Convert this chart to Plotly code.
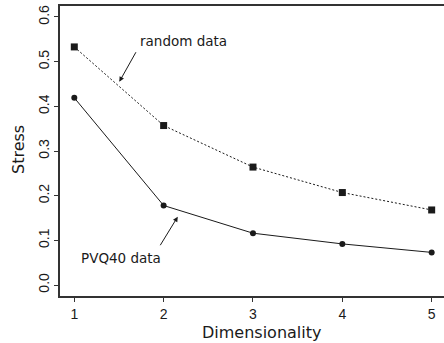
import plotly.graph_objects as go

dims = [1, 2, 3, 4, 5]
random_stress = [0.533, 0.357, 0.264, 0.207, 0.168]
pvq_stress = [0.419, 0.178, 0.116, 0.092, 0.073]
y_ticks = [0.0, 0.1, 0.2, 0.3, 0.4, 0.5, 0.6]
y_ticklabels = ["0.0", "0.1", "0.2", "0.3", "0.4", "0.5", "0.6"]

INK = "#1a1a1a"
fig = go.Figure()
fig.add_trace(go.Scatter(x=dims, y=random_stress, mode="lines+markers",
                         line=dict(color=INK, width=1, dash="2px,2px"),
                         marker=dict(symbol="square", size=7, color=INK),
                         showlegend=False))
fig.add_trace(go.Scatter(x=dims, y=pvq_stress, mode="lines+markers",
                         line=dict(color=INK, width=1),
                         marker=dict(symbol="circle", size=6, color=INK),
                         showlegend=False))

W, H = 444, 343
L, T, R, B = 60, 6, 0, 47
fig.update_layout(
    width=W, height=H,
    margin=dict(l=L, r=R, t=T, b=B),
    plot_bgcolor="white", paper_bgcolor="white",
    font=dict(family="Liberation Sans, Arial", size=14, color=INK),
    xaxis=dict(range=[0.84, 5.138], tickvals=dims, ticktext=[str(d) for d in dims],
               showgrid=False, zeroline=False, showline=True, mirror=True,
               linecolor="#333", linewidth=1.5, ticks="outside", ticklen=4,
               tickcolor="#333", tickfont=dict(size=14, color=INK)),
    yaxis=dict(range=[-0.0246, 0.6246], tickvals=y_ticks, ticktext=y_ticklabels,
               showgrid=False, zeroline=False, showline=True, mirror=False,
               linecolor="#333", linewidth=1.5, ticks="outside", ticklen=4,
               tickcolor="#333", tickangle=-90, tickfont=dict(size=14, color=INK)),
)

title_font = dict(family="DejaVu Sans, Verdana", size=16, color=INK)
fig.add_annotation(text="Stress", xref="paper", yref="paper",
                   x=(18 - L) / 384, y=(296 - 150) / 290, textangle=-90,
                   showarrow=False, xanchor="center", yanchor="middle", font=title_font)
fig.add_annotation(text="Dimensionality", xref="paper", yref="paper",
                   x=(261.7 - L) / 384, y=(296 - 332) / 290,
                   showarrow=False, xanchor="center", yanchor="middle", font=title_font)

lab_font = dict(family="DejaVu Sans, Verdana", size=13.5, color=INK)
fig.add_annotation(text="random data", x=2.217, y=0.546, xref="x", yref="y",
                   showarrow=False, font=lab_font)
fig.add_annotation(text="PVQ40 data", x=1.523, y=0.060, xref="x", yref="y",
                   showarrow=False, font=lab_font)
fig.add_annotation(x=1.504, y=0.455, ax=1.699, ay=0.5245, xref="x", yref="y",
                   axref="x", ayref="y", text="", showarrow=True,
                   arrowhead=2, arrowsize=1, arrowwidth=1, arrowcolor=INK)
fig.add_annotation(x=2.158, y=0.153, ax=1.952, ay=0.0857, xref="x", yref="y",
                   axref="x", ayref="y", text="", showarrow=True,
                   arrowhead=2, arrowsize=1, arrowwidth=1, arrowcolor=INK)

fig.write_html("out.html")
